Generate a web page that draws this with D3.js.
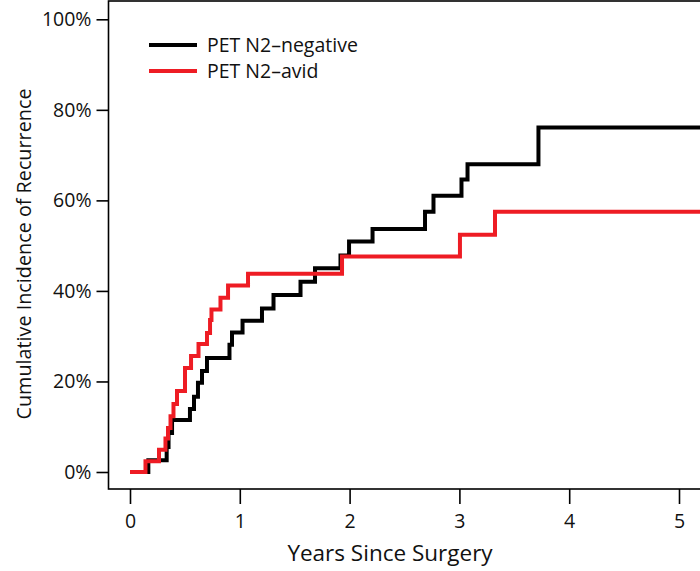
<!DOCTYPE html>
<html>
<head>
<meta charset="utf-8">
<script src="https://cdn.jsdelivr.net/npm/d3@7"></script>
<style>
  body { margin: 0; background: #fff; }
  svg text { font-family: "Open Sans", "Noto Sans", sans-serif; fill: #111; }
</style>
</head>
<body>
<svg id="chart" width="700" height="571"></svg>
<script>
// step times (years) and cumulative incidence (%)
var negTimes = [0, 0.167, 0.334, 0.351, 0.383, 0.546, 0.583, 0.619, 0.656, 0.701, 0.906, 0.929,
                1.025, 1.202, 1.307, 1.553, 1.685, 1.917, 1.995, 2.209, 2.687, 2.764, 3.019, 3.074, 3.720, 5.6];
var negPct   = [0, 2.6, 5.5, 8.6, 11.5, 13.9, 16.6, 19.7, 22.3, 25.2, 28.1, 30.8,
                33.4, 36.1, 39.1, 42.0, 45.0, 47.8, 50.9, 53.7, 57.5, 61.0, 64.6, 68.0, 76.1, 76.1];
var avidTimes = [0, 0.141, 0.264, 0.323, 0.346, 0.369, 0.396, 0.428, 0.501, 0.556, 0.624, 0.701,
                 0.729, 0.742, 0.824, 0.893, 1.075, 1.931, 3.005, 3.324, 5.6];
var avidPct   = [0, 2.4, 4.9, 7.4, 9.7, 12.3, 15.0, 17.9, 23.0, 25.6, 28.3, 30.7,
                 33.6, 35.9, 38.5, 41.2, 43.8, 47.6, 52.4, 57.5, 57.5];
var xTicks = [0, 1, 2, 3, 4, 5];
var yTicks = [0, 20, 40, 60, 80, 100];
var seriesNames = ['PET N2\u2013negative', 'PET N2\u2013avid'];
var seriesColors = ['#000000', '#ee1c24'];

var box = {'left': 108.5, 'top': 1, 'right': 730, 'bottom': 489};
var svg = d3.select('#chart');

var x = d3.scaleLinear().domain([0, 5]).range([130, 679]);
var y = d3.scaleLinear().domain([0, 100]).range([472, 19.3]);

svg.append('clipPath').attr('id', 'plotclip')
   .append('rect').attr('x', box.left).attr('y', box.top)
   .attr('width', box.right - box.left).attr('height', box.bottom - box.top);

// curves
var line = d3.line()
             .x(function (d) { return x(d[0]); })
             .y(function (d) { return y(d[1]); })
             .curve(d3.curveStepAfter);
var series = [d3.zip(negTimes, negPct), d3.zip(avidTimes, avidPct)];
// red drawn after black so it sits on top
for (var i = 0; i < series.length; i++) {
    svg.append('path')
       .attr('clip-path', 'url(#plotclip)')
       .attr('d', line(series[i]))
       .attr('fill', 'none')
       .attr('stroke', seriesColors[i])
       .attr('stroke-width', 4)
       .attr('stroke-linejoin', 'miter')
       .attr('stroke-linecap', 'butt');
}

// frame
svg.append('rect')
   .attr('x', box.left).attr('y', box.top)
   .attr('width', box.right - box.left).attr('height', box.bottom - box.top)
   .attr('fill', 'none').attr('stroke', '#000').attr('stroke-width', 1.6);

// x axis (ticks hang under the frame)
var xAxis = svg.append('g')
   .attr('transform', 'translate(0,' + box.bottom + ')')
   .call(d3.axisBottom(x).tickValues(xTicks).tickSize(15).tickPadding(10).tickFormat(d3.format('d')));
xAxis.select('.domain').remove();
xAxis.selectAll('line').attr('stroke', '#000').attr('stroke-width', 1.6);
xAxis.selectAll('text').attr('font-size', 19.5).style('font-family', '"Open Sans", sans-serif');

// y axis
var yAxis = svg.append('g')
   .attr('transform', 'translate(' + box.left + ',0)')
   .call(d3.axisLeft(y).tickValues(yTicks).tickSize(12).tickPadding(5)
           .tickFormat(function (d) { return d + '%'; }));
yAxis.select('.domain').remove();
yAxis.selectAll('line').attr('stroke', '#000').attr('stroke-width', 1.6);
yAxis.selectAll('text').attr('font-size', 19.5).style('font-family', '"Open Sans", sans-serif');

// axis titles
svg.append('text')
   .attr('x', 390).attr('y', 561)
   .attr('text-anchor', 'middle')
   .attr('font-size', 22.5)
   .text('Years Since Surgery');
svg.append('text')
   .attr('transform', 'translate(31,254) rotate(-90)')
   .attr('text-anchor', 'middle')
   .attr('font-size', 19.8)
   .text('Cumulative Incidence of Recurrence');

// legend
var legend = svg.append('g');
for (var j = 0; j < seriesNames.length; j++) {
    var ly = 45 + j * 26;
    legend.append('line')
          .attr('x1', 149).attr('x2', 197).attr('y1', ly).attr('y2', ly)
          .attr('stroke', seriesColors[j]).attr('stroke-width', 4);
    legend.append('text')
          .attr('x', 207).attr('y', ly).attr('dy', '0.35em')
          .attr('font-size', 19.5)
          .text(seriesNames[j]);
}
</script>
</body>
</html>
